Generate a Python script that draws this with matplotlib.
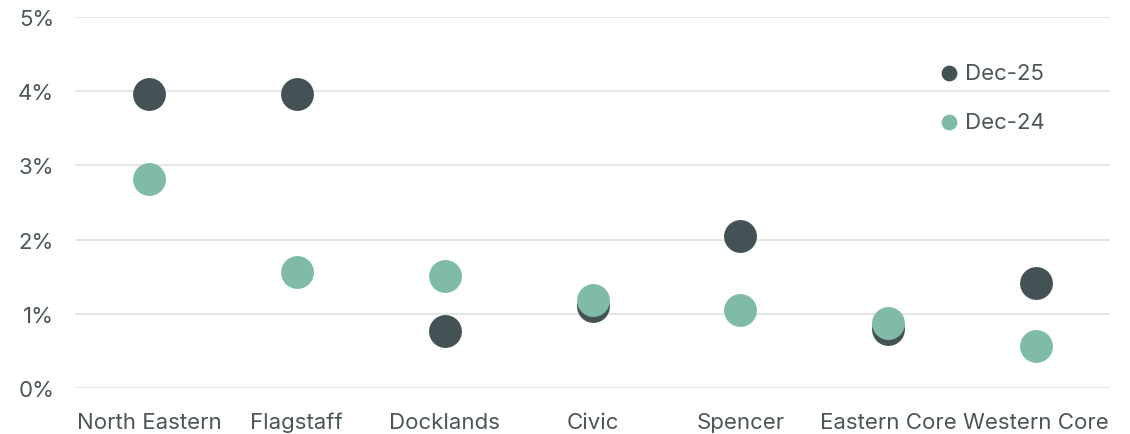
import matplotlib.pyplot as plt
from matplotlib.ticker import FuncFormatter

regions = ["North Eastern", "Flagstaff", "Docklands", "Civic", "Spencer", "Eastern Core", "Western Core"]
dec25 = [3.96, 3.96, 0.77, 1.11, 2.05, 0.80, 1.42]
dec24 = [2.81, 1.57, 1.51, 1.19, 1.05, 0.88, 0.57]

dark = "#435254"
light = "#80baa9"
text_c = "#4a5657"
grid_c = "#e3e8e7"

plt.rcParams["font.family"] = ["Inter", "DejaVu Sans"]

fig = plt.figure(figsize=(11.3, 4.35), dpi=100)
ax = fig.add_axes([75 / 1130, 46 / 435, 1035 / 1130, 371 / 435])

x = range(len(regions))
ax.scatter(x, dec25, s=560, color=dark, label="Dec-25", zorder=3, linewidths=0)
ax.scatter(x, dec24, s=560, color=light, label="Dec-24", zorder=4, linewidths=0)

ax.set_xlim(-0.5, 6.5)
ax.set_ylim(0, 5)
ax.set_yticks(range(6))
ax.yaxis.set_major_formatter(FuncFormatter(lambda v, p: f"{v:.0f}%"))
ax.set_xticks(list(x))
ax.set_xticklabels(regions)
ax.yaxis.grid(color=grid_c, linewidth=1.5)
ax.set_axisbelow(True)
for s in ax.spines.values():
    s.set_visible(False)
ax.tick_params(length=0, labelsize=16, colors=text_c)
ax.tick_params(axis="y", pad=15)
ax.tick_params(axis="x", pad=17)

leg = ax.legend(loc="upper left", bbox_to_anchor=(0.817, 0.93), frameon=False,
                fontsize=16, markerscale=0.48, handlelength=0.8, handletextpad=0.3,
                labelspacing=1.3, labelcolor=text_c)

fig.savefig("out.png", dpi=100)
